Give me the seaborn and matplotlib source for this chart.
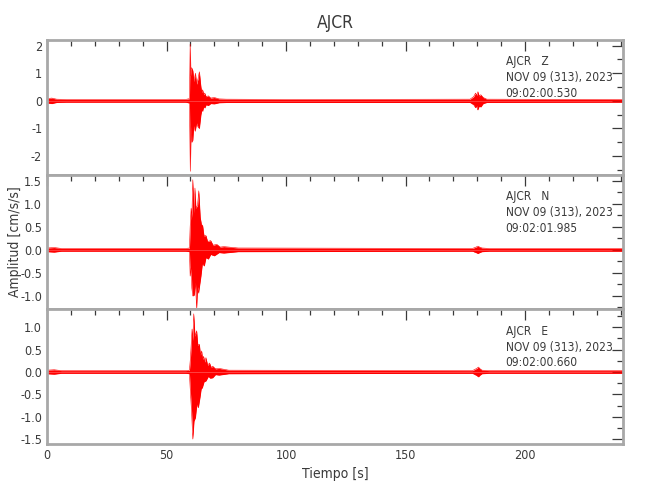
import numpy as np
import pandas as pd
import matplotlib
matplotlib.use("Agg")
import matplotlib.pyplot as plt
import seaborn as sns
from matplotlib.ticker import MultipleLocator, FormatStrFormatter

# envelope of each trace (time [s], amplitude [cm/s/s])
z_up_t = [0, 2, 4, 8, 30, 58, 59.6, 59.9, 60.2, 60.5, 61.0, 61.5, 62.1, 62.6, 63.2, 63.75, 64.4, 64.8, 65.1, 65.6, 66.0, 66.6, 67.5, 68.5, 70, 72, 75, 100,
          177, 178.5, 179.3, 179.8, 180.3, 180.8, 181.5, 182.5, 184, 241]
z_up_v = [0.08, 0.10, 0.06, 0.05, 0.05, 0.05, 0.08, 2.05, 0.9, 1.2, 1.1, 0.7, 1.0, 0.6, 0.8, 1.05, 0.5, 0.3, 0.4, 0.22, 0.28, 0.15, 0.18, 0.1, 0.12, 0.07, 0.06, 0.05,
          0.06, 0.15, 0.28, 0.2, 0.33, 0.18, 0.22, 0.12, 0.06, 0.05]
z_lo_t = [0, 2, 4, 8, 58, 59.6, 59.95, 60.3, 60.6, 61.0, 61.4, 62.0, 62.6, 63.2, 63.75, 64.4, 64.8, 65.1, 65.6, 66.0, 66.6, 67.5, 68.5, 70, 72, 75,
          177, 178.5, 179.3, 179.8, 180.2, 180.8, 181.5, 182.5, 184, 241]
z_lo_v = [-0.08, -0.10, -0.06, -0.05, -0.05, -0.08, -2.55, -0.9, -1.5, -1.42, -0.9, -1.1, -0.8, -0.95, -1.0, -0.5, -0.32, -0.38, -0.2, -0.26, -0.14, -0.17, -0.1, -0.11, -0.07, -0.06,
          -0.06, -0.14, -0.25, -0.18, -0.33, -0.2, -0.22, -0.1, -0.06, -0.05]

n_up_t = [0, 3, 6, 58, 59.6, 59.9, 60.3, 60.6, 61.0, 61.5, 61.9, 62.3, 63.0, 63.5, 64.1, 64.6, 65.1, 65.7, 66.5, 67.2, 68.5, 69.5, 71, 72.5, 74, 80,
          178, 179.5, 180.3, 181, 182, 185, 241]
n_up_v = [0.04, 0.05, 0.03, 0.03, 0.04, 0.5, 0.9, 0.7, 1.52, 0.8, 1.34, 0.9, 0.97, 1.28, 0.71, 0.55, 0.53, 0.3, 0.31, 0.18, 0.2, 0.1, 0.12, 0.06, 0.07, 0.04,
          0.03, 0.06, 0.08, 0.06, 0.04, 0.03, 0.03]
n_lo_t = [0, 3, 6, 58, 59.6, 59.9, 60.3, 60.6, 61.0, 61.6, 62.1, 62.6, 63.0, 63.4, 64.4, 65.0, 65.8, 66.5, 67.5, 68.5, 70, 72, 74, 80,
          178, 179.5, 180.3, 181, 182, 185, 241]
n_lo_v = [-0.04, -0.05, -0.03, -0.03, -0.04, -0.57, -0.4, -0.83, -1.0, -0.98, -0.7, -1.27, -0.8, -0.94, -0.57, -0.3, -0.35, -0.17, -0.2, -0.1, -0.13, -0.06, -0.07, -0.04,
          -0.03, -0.06, -0.08, -0.06, -0.04, -0.03, -0.03]

e_up_t = [0, 3, 6, 58, 59.6, 60.0, 60.7, 61.0, 61.4, 61.9, 62.6, 63.1, 63.75, 64.2, 64.7, 65.1, 65.5, 66.0, 66.5, 67.2, 68, 68.7, 69.3, 70.5, 72, 76,
          178, 179.8, 180.5, 181.2, 182, 185, 241]
e_up_v = [0.04, 0.05, 0.03, 0.03, 0.04, 0.3, 0.96, 0.7, 1.3, 0.8, 0.92, 0.6, 0.62, 0.38, 0.47, 0.28, 0.35, 0.22, 0.32, 0.15, 0.2, 0.1, 0.13, 0.07, 0.08, 0.04,
          0.03, 0.08, 0.11, 0.07, 0.04, 0.03, 0.03]
e_lo_t = [0, 3, 6, 58, 59.6, 59.9, 60.5, 61.0, 61.5, 62.1, 62.7, 63.3, 64.0, 64.5, 65.0, 65.7, 66.5, 67.5, 68.3, 69.3, 70.5, 72, 76,
          178, 179.8, 180.5, 181.2, 182, 185, 241]
e_lo_v = [-0.04, -0.05, -0.03, -0.03, -0.04, -0.35, -0.9, -1.5, -1.1, -1.02, -0.72, -0.8, -0.57, -0.38, -0.35, -0.22, -0.2, -0.1, -0.14, -0.13, -0.06, -0.07, -0.04,
          -0.03, -0.08, -0.11, -0.07, -0.04, -0.03, -0.03]

componentes = ["Z", "N", "E"]
horas = ["09:02:00.530", "09:02:01.985", "09:02:00.660"]
ylims = [(-2.67, 2.2), (-1.29, 1.63), (-1.61, 1.40)]
y_major = [1.0, 0.5, 0.5]
y_minor = [0.5, 0.25, 0.25]

sns.set_style("white")
plt.rcParams["font.family"] = ["DejaVu Sans"]
plt.rcParams["font.stretch"] = "condensed"
gris = "#a8a8a8"
texto = "#3a3a3a"

trazas = [
    (z_up_t, z_up_v, z_lo_t, z_lo_v),
    (n_up_t, n_up_v, n_lo_t, n_lo_v),
    (e_up_t, e_up_v, e_lo_t, e_lo_v),
]

fig, axes = plt.subplots(3, 1, figsize=(6.5, 5), dpi=100, sharex=True)
fig.subplots_adjust(left=0.0723, right=0.9585, top=0.92, bottom=0.112, hspace=0)

for i, ax in enumerate(axes):
    ut, uv, lt, lv = trazas[i]
    ax.fill_between(ut, 0, uv, color="red", lw=0)
    ax.fill_between(lt, lv, 0, color="red", lw=0)
    sns.lineplot(x=ut, y=uv, ax=ax, color="red", lw=0.4, estimator=None, sort=False)
    sns.lineplot(x=lt, y=lv, ax=ax, color="red", lw=0.4, estimator=None, sort=False)

    ax.set_xlim(0, 241)
    ax.set_ylim(*ylims[i])
    ax.xaxis.set_major_locator(MultipleLocator(50))
    ax.xaxis.set_minor_locator(MultipleLocator(10))
    ax.yaxis.set_major_locator(MultipleLocator(y_major[i]))
    ax.yaxis.set_minor_locator(MultipleLocator(y_minor[i]))
    if i == 0:
        ax.yaxis.set_major_formatter(FormatStrFormatter("%d"))
    else:
        ax.yaxis.set_major_formatter(FormatStrFormatter("%.1f"))
    ax.tick_params(which="both", direction="in", top=True, right=True,
                   color=texto, labelcolor=texto, labelsize=9, width=0.9)
    ax.tick_params(which="major", length=8)
    ax.tick_params(which="minor", length=4)
    for s in ax.spines.values():
        s.set_color(gris)
        s.set_linewidth(2)
    ax.set_ylabel("")
    ax.text(0.796, 0.885, f"AJCR   {componentes[i]}\nNOV 09 (313), 2023\n{horas[i]}",
            transform=ax.transAxes, ha="left", va="top", fontsize=8.6,
            color=texto, linespacing=1.27)

axes[-1].set_xlabel("Tiempo [s]", fontsize=10, color=texto)
axes[1].set_ylabel("Amplitud [cm/s/s]", fontsize=10, color=texto)
axes[1].yaxis.set_label_coords(-0.043, 0.5)
axes[0].set_title("AJCR", fontsize=12.5, color=texto, pad=9)

fig.savefig("out.png", dpi=100)
